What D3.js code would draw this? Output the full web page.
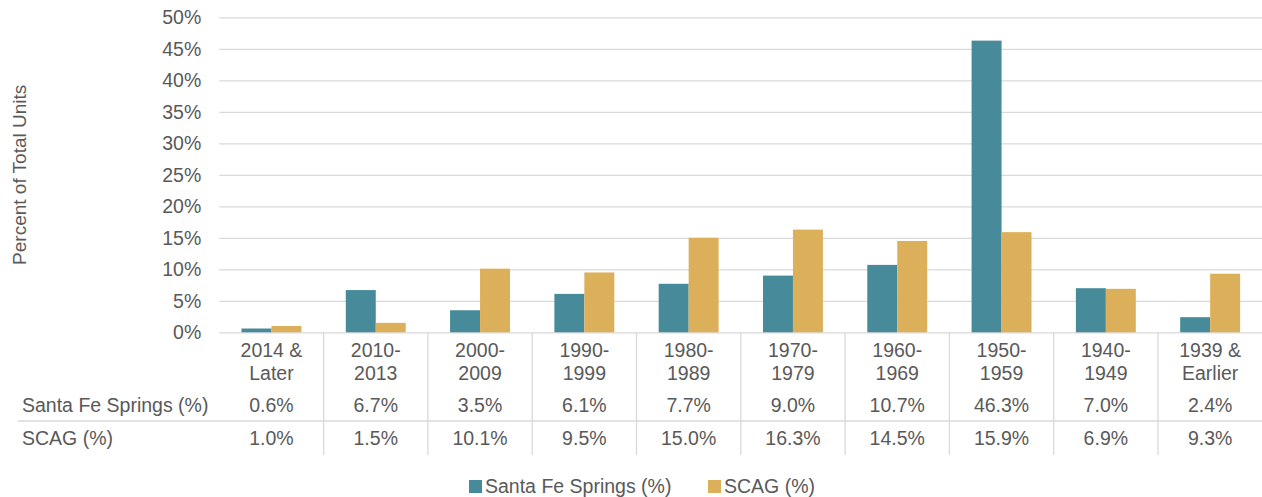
<!DOCTYPE html>
<html>
<head>
<meta charset="utf-8">
<script src="https://cdn.jsdelivr.net/npm/d3@7"></script>
<style>
  body { margin: 0; background: #fff; }
  svg text { font-family: "Liberation Sans", Arial, sans-serif; fill: #595959; }
</style>
</head>
<body>
<div id="chart-area"></div>
<script>
// data
var categories = ["2014 & Later", "2010-2013", "2000-2009", "1990-1999", "1980-1989",
                  "1970-1979", "1960-1969", "1950-1959", "1940-1949", "1939 & Earlier"];
var catLines = [["2014 &", "Later"], ["2010-", "2013"], ["2000-", "2009"], ["1990-", "1999"], ["1980-", "1989"],
                ["1970-", "1979"], ["1960-", "1969"], ["1950-", "1959"], ["1940-", "1949"], ["1939 &", "Earlier"]];
var seriesNames = ["Santa Fe Springs (%)", "SCAG (%)"];
var santaFe = [0.6, 6.7, 3.5, 6.1, 7.7, 9.0, 10.7, 46.3, 7.0, 2.4];
var scag = [1.0, 1.5, 10.1, 9.5, 15.0, 16.3, 14.5, 15.9, 6.9, 9.3];
var yTicks = [0, 5, 10, 15, 20, 25, 30, 35, 40, 45, 50];
var colors = ["#478a99", "#dcb05b"];

var margin = {top: 17.3, left: 219.3};
var width = 1043;
var height = 315;
var W = 1262, H = 497;
var fs = "19.5px";

var svg = d3.select("#chart-area")
	.append("svg")
	.attr("width", W)
	.attr("height", H);

var g = svg.append("g")
	.attr("transform", "translate(" + margin.left + ", " + margin.top + ")");

var x0 = d3.scaleBand()
	.domain(categories)
	.range([0, width])
	.paddingInner(0)
	.paddingOuter(0);

var x1 = d3.scaleBand()
	.domain(seriesNames)
	.range([0, x0.bandwidth()])
	.paddingInner(0)
	.paddingOuter(0.74);

var y = d3.scaleLinear()
	.domain([0, 50])
	.range([height, 0]);

// gridlines + tick labels
var leftAxis = d3.axisLeft(y)
	.tickValues(yTicks)
	.tickSize(-width)
	.tickPadding(18)
	.tickFormat((d) => { return d + "%"; });

var yAxis = g.append("g")
	.attr("class", "y axis")
	.call(leftAxis);
yAxis.select(".domain").remove();
yAxis.selectAll("line").attr("stroke", "#d9d9d9").attr("stroke-width", 1.3);
yAxis.selectAll("text")
	.attr("font-size", fs)
	.style("font-family", "'Liberation Sans', Arial, sans-serif")
	.attr("fill", "#595959");

// bars
var data = categories.map((c, i) => { return {cat: c, vals: [santaFe[i], scag[i]]}; });

var groups = g.selectAll(".grp").data(data)
	.enter()
	.append("g")
	.attr("class", "grp")
	.attr("transform", (d) => { return "translate(" + x0(d.cat) + ",0)"; });

groups.selectAll("rect")
	.data((d) => { return d.vals.map((v, j) => { return {name: seriesNames[j], v: v, j: j}; }); })
	.enter()
	.append("rect")
	.attr("x", (d) => { return x1(d.name); })
	.attr("y", (d) => { return y(d.v); })
	.attr("width", x1.bandwidth())
	.attr("height", (d) => { return height - y(d.v); })
	.attr("fill", (d) => { return colors[d.j]; });

// data table
var tableBottom = 455 - margin.top;
var rowLine = 421 - margin.top;

g.append("line")
	.attr("x1", 18 - margin.left).attr("x2", width)
	.attr("y1", rowLine).attr("y2", rowLine)
	.attr("stroke", "#d9d9d9").attr("stroke-width", 1.3);

g.selectAll(".vsep").data(categories.slice(1))
	.enter()
	.append("line")
	.attr("class", "vsep")
	.attr("x1", (d) => { return x0(d); })
	.attr("x2", (d) => { return x0(d); })
	.attr("y1", height)
	.attr("y2", tableBottom)
	.attr("stroke", "#d9d9d9").attr("stroke-width", 1.3);

// category labels
var catText = g.selectAll(".cat").data(data)
	.enter()
	.append("text")
	.attr("class", "cat")
	.attr("text-anchor", "middle")
	.attr("font-size", fs)
	.attr("x", (d) => { return x0(d.cat) + x0.bandwidth() / 2; })
	.attr("y", 357 - margin.top);

catText.selectAll("tspan")
	.data((d, i) => { return catLines[i]; })
	.enter()
	.append("tspan")
	.attr("x", function() { return d3.select(this.parentNode).attr("x"); })
	.attr("dy", (d, i) => { return i === 0 ? 0 : 23; })
	.text((d) => { return d; });

// table rows
var rows = [santaFe, scag];
var rowY = [412, 445];
rows.forEach((vals, r) => {
	g.append("text")
		.attr("x", 22 - margin.left)
		.attr("y", rowY[r] - margin.top)
		.attr("font-size", fs)
		.text(seriesNames[r]);
	g.selectAll(".row" + r).data(vals)
		.enter()
		.append("text")
		.attr("class", "row" + r)
		.attr("text-anchor", "middle")
		.attr("font-size", fs)
		.attr("x", (d, i) => { return x0(categories[i]) + x0.bandwidth() / 2; })
		.attr("y", rowY[r] - margin.top)
		.text((d) => { return d.toFixed(1) + "%"; });
});

// y axis label
svg.append("text")
	.attr("transform", "rotate(-90)")
	.attr("x", -(margin.top + height / 2))
	.attr("y", 26)
	.attr("text-anchor", "middle")
	.attr("font-size", "19px")
	.text("Percent of Total Units");

// legend
var legendX = [469, 708];
seriesNames.forEach((s, j) => {
	svg.append("rect")
		.attr("x", legendX[j])
		.attr("y", 480)
		.attr("width", 13)
		.attr("height", 13)
		.attr("fill", colors[j]);
	svg.append("text")
		.attr("x", legendX[j] + 16)
		.attr("y", 493)
		.attr("font-size", fs)
		.text(s);
});
</script>
</body>
</html>
